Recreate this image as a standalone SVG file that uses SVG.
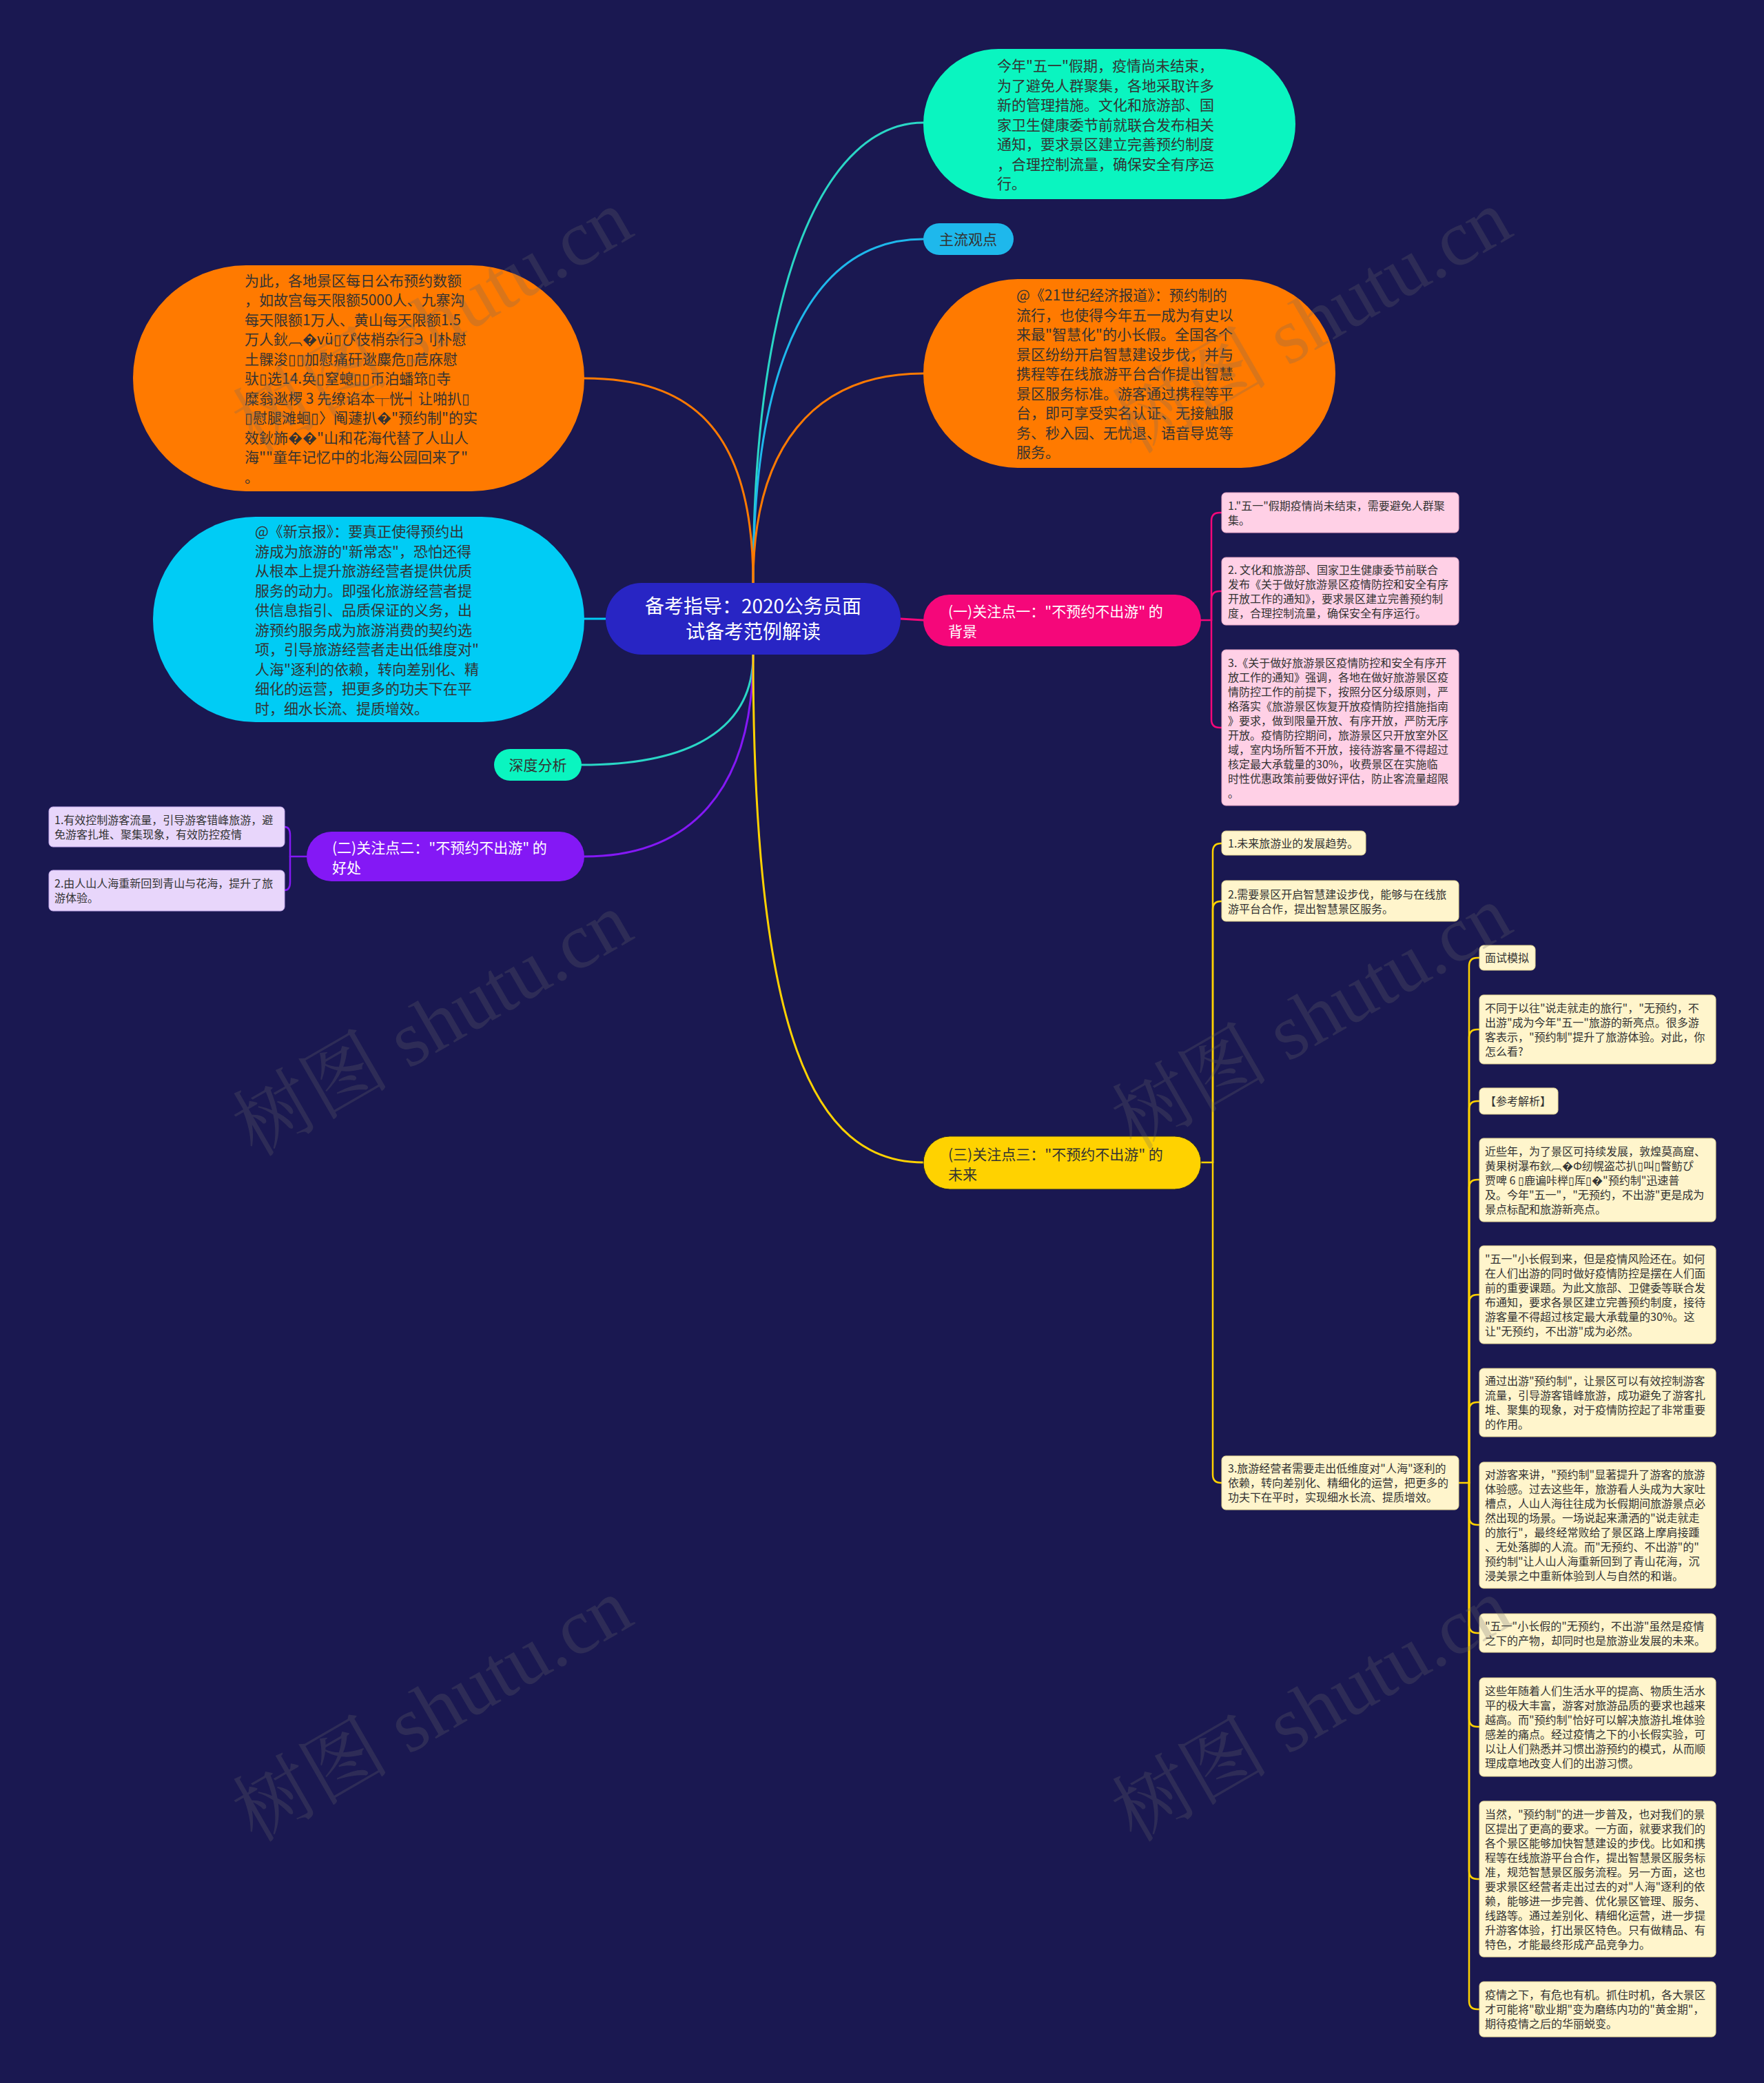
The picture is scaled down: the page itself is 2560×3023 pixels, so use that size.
<svg xmlns="http://www.w3.org/2000/svg" width="2560" height="3023" viewBox="0 0 2560 3023">
<style>
.t{font-family:"Noto Sans CJK SC","Noto Sans",sans-serif;fill:#333}
.f21{font-size:21px}
.f16{font-size:16px}
.f28{font-size:28px}
.w{fill:#fff}
.c{fill:none;stroke-width:3;stroke-linecap:round}
.cs{fill:none;stroke-width:2.5;stroke-linecap:round}
.wm{font-family:"Liberation Serif","Noto Serif CJK SC","Noto Sans CJK SC",serif;font-size:114px;fill:#6a6a6a;opacity:0.25}
.pk{fill:#ffd0e6;stroke:#e9a6c6;stroke-width:1}
.pu{fill:#e8d6fb;stroke:#c4a9ec;stroke-width:1}
.ye{fill:#fff5cc;stroke:#e4d592;stroke-width:1}
</style>
<rect x="0" y="0" width="2560" height="3023" fill="#1a1851"/>

<g id="connectors">
<path class="c" stroke="#2ad6c6" d="M1093,846 C1093,400 1200,178 1340,178"/>
<path class="c" stroke="#1eb8ec" d="M1093,846 C1093,520 1180,347 1340,347"/>
<path class="c" stroke="#ff7a00" d="M1093,846 C1093,650 1180,542 1340,542"/>
<path class="c" stroke="#ff7a00" d="M1093,846 C1093,620 1000,549 848,549"/>
<path class="c" stroke="#00ccf5" d="M879,898 L848,898"/>
<path class="c" stroke="#f5077a" d="M1307,898 L1340,900"/>
<path class="c" stroke="#2ad6c6" d="M1093,950 C1093,1060 1000,1110 844,1110"/>
<path class="c" stroke="#8418f5" d="M1093,950 C1093,1150 1000,1243 848,1243"/>
<path class="c" stroke="#ffd200" d="M1093,950 C1093,1500 1180,1687 1340,1687"/>

<g stroke="#f5077a">
<path class="cs" d="M1743,900 L1758,900"/>
<path class="cs" d="M1758,900 L1758,756 Q1758,744 1770,744 L1773,744"/>
<path class="cs" d="M1758,900 L1758,870 Q1758,858 1770,858 L1773,858"/>
<path class="cs" d="M1758,900 L1758,1044 Q1758,1056 1770,1056 L1773,1056"/>
</g>
<g stroke="#8418f5">
<path class="cs" d="M445,1243 L421,1243"/>
<path class="cs" d="M421,1243 L421,1212 Q421,1200 413,1200"/>
<path class="cs" d="M421,1243 L421,1280 Q421,1292 413,1292"/>
</g>
<g stroke="#ffd200">
<path class="cs" d="M1743,1687 L1760,1687"/>
<path class="cs" d="M1760,1687 L1760,1236 Q1760,1224 1772,1224 L1773,1224"/>
<path class="cs" d="M1760,1687 L1760,1320 Q1760,1308 1772,1308 L1773,1308"/>
<path class="cs" d="M1760,1687 L1760,2140 Q1760,2152 1772,2152 L1773,2152"/>
<path class="cs" d="M2117,2152 L2132,2152"/>
<path class="cs" d="M2132,2152 L2132,1402 Q2132,1390 2144,1390 L2147,1390"/>
<path class="cs" d="M2132,2152 L2132,1506 Q2132,1494 2144,1494 L2147,1494"/>
<path class="cs" d="M2132,2152 L2132,1610 Q2132,1598 2144,1598 L2147,1598"/>
<path class="cs" d="M2132,2152 L2132,1724 Q2132,1712 2144,1712 L2147,1712"/>
<path class="cs" d="M2132,2152 L2132,1891 Q2132,1879 2144,1879 L2147,1879"/>
<path class="cs" d="M2132,2152 L2132,2047 Q2132,2035 2144,2035 L2147,2035"/>
<path class="cs" d="M2132,2152 L2132,2201 Q2132,2213 2144,2213 L2147,2213"/>
<path class="cs" d="M2132,2152 L2132,2358 Q2132,2370 2144,2370 L2147,2370"/>
<path class="cs" d="M2132,2152 L2132,2494 Q2132,2506 2144,2506 L2147,2506"/>
<path class="cs" d="M2132,2152 L2132,2715 Q2132,2727 2144,2727 L2147,2727"/>
<path class="cs" d="M2132,2152 L2132,2904 Q2132,2916 2144,2916 L2147,2916"/>
</g>
</g>

<g id="center">
<rect x="879" y="846" width="428" height="104" rx="52" fill="#2825c4"/>
<text class="t f28 w" text-anchor="middle"><tspan x="1093" y="890">备考指导：2020公务员面</tspan><tspan x="1093" y="927">试备考范例解读</tspan></text>
</g>

<g id="n-teal">
<rect x="1340" y="71" width="540" height="218" rx="109" fill="#0af5c0"/>
<text class="t f21"><tspan x="1447" y="103">今年"五一"假期，疫情尚未结束，</tspan><tspan x="1447" y="131.5">为了避免人群聚集，各地采取许多</tspan><tspan x="1447" y="160">新的管理措施。文化和旅游部、国</tspan><tspan x="1447" y="188.5">家卫生健康委节前就联合发布相关</tspan><tspan x="1447" y="217">通知，要求景区建立完善预约制度</tspan><tspan x="1447" y="245.5">，合理控制流量，确保安全有序运</tspan><tspan x="1447" y="274">行。</tspan></text>
</g>

<g id="n-zhuliu">
<rect x="1340" y="324" width="131" height="46" rx="23" fill="#1eb8ec"/>
<text class="t f21" x="1405" y="355" text-anchor="middle">主流观点</text>
</g>

<g id="n-orange-r">
<rect x="1340" y="405" width="598" height="274" rx="137" fill="#ff7a00"/>
<text class="t f21"><tspan x="1475" y="436">@《21世纪经济报道》：预约制的</tspan><tspan x="1475" y="464.5">流行，也使得今年五一成为有史以</tspan><tspan x="1475" y="493">来最"智慧化"的小长假。全国各个</tspan><tspan x="1475" y="521.5">景区纷纷开启智慧建设步伐，并与</tspan><tspan x="1475" y="550">携程等在线旅游平台合作提出智慧</tspan><tspan x="1475" y="578.5">景区服务标准。游客通过携程等平</tspan><tspan x="1475" y="607">台，即可享受实名认证、无接触服</tspan><tspan x="1475" y="635.5">务、秒入园、无忧退、语音导览等</tspan><tspan x="1475" y="664">服务。</tspan></text>
</g>

<g id="n-orange-l">
<rect x="193" y="385" width="655" height="328" rx="164" fill="#ff7a00"/>
<text class="t f21"><tspan x="355" y="414.5">为此，各地景区每日公布预约数额</tspan><tspan x="355" y="443">，如故宫每天限额5000人、九寨沟</tspan><tspan x="355" y="471.5">每天限额1万人、黄山每天限额1.5</tspan><tspan x="355" y="500">万人鈥︹�vü▯ぴ伎梢杂行Э刂朴慰</tspan><tspan x="355" y="528.5">土髁浚▯▯加慰痛矸逖麋危▯苊庥慰</tspan><tspan x="355" y="557">驮▯选14.奂▯窒螅▯▯币泊蟠筇▯寺</tspan><tspan x="355" y="585.5">糜翁逖椤 3 先缭谄本┬恍┥让啪扒▯</tspan><tspan x="355" y="614">▯慰腿滩蛔▯〉阄蘧扒�"预约制"的实</tspan><tspan x="355" y="642.5">效鈥斾��"山和花海代替了人山人</tspan><tspan x="355" y="671">海""童年记忆中的北海公园回来了"</tspan><tspan x="355" y="699.5">。</tspan></text>
</g>

<g id="n-cyan">
<rect x="222" y="750" width="626" height="298" rx="149" fill="#00ccf5"/>
<text class="t f21"><tspan x="370" y="779">@《新京报》：要真正使得预约出</tspan><tspan x="370" y="807.5">游成为旅游的"新常态"，恐怕还得</tspan><tspan x="370" y="836">从根本上提升旅游经营者提供优质</tspan><tspan x="370" y="864.5">服务的动力。即强化旅游经营者提</tspan><tspan x="370" y="893">供信息指引、品质保证的义务，出</tspan><tspan x="370" y="921.5">游预约服务成为旅游消费的契约选</tspan><tspan x="370" y="950">项，引导旅游经营者走出低维度对"</tspan><tspan x="370" y="978.5">人海"逐利的依赖，转向差别化、精</tspan><tspan x="370" y="1007">细化的运营，把更多的功夫下在平</tspan><tspan x="370" y="1035.5">时，细水长流、提质增效。</tspan></text>
</g>

<g id="n-shendu">
<rect x="717" y="1087" width="127" height="46" rx="23" fill="#0af5c0"/>
<text class="t f21" x="780.5" y="1118" text-anchor="middle">深度分析</text>
</g>

<g id="n-pink">
<rect x="1340" y="863" width="403" height="75" rx="37.5" fill="#f5077a"/>
<text class="t f21 w"><tspan x="1376" y="895">(一)关注点一："不预约不出游" 的</tspan><tspan x="1376" y="923.5">背景</tspan></text>
</g>
<g id="n-pink-1">
<rect class="pk" x="1773" y="715" width="344" height="58" rx="6"/>
<text class="t f16"><tspan x="1782" y="739.5">1."五一"假期疫情尚未结束，需要避免人群聚</tspan><tspan x="1782" y="760.5">集。</tspan></text>
</g>
<g id="n-pink-2">
<rect class="pk" x="1773" y="809" width="344" height="98" rx="6"/>
<text class="t f16"><tspan x="1782" y="832.5">2. 文化和旅游部、国家卫生健康委节前联合</tspan><tspan x="1782" y="853.5">发布《关于做好旅游景区疫情防控和安全有序</tspan><tspan x="1782" y="874.5">开放工作的通知》，要求景区建立完善预约制</tspan><tspan x="1782" y="895.5">度，合理控制流量，确保安全有序运行。</tspan></text>
</g>
<g id="n-pink-3">
<rect class="pk" x="1773" y="943" width="344" height="226" rx="6"/>
<text class="t f16"><tspan x="1782" y="967.5">3.《关于做好旅游景区疫情防控和安全有序开</tspan><tspan x="1782" y="988.5">放工作的通知》强调，各地在做好旅游景区疫</tspan><tspan x="1782" y="1009.5">情防控工作的前提下，按照分区分级原则，严</tspan><tspan x="1782" y="1030.5">格落实《旅游景区恢复开放疫情防控措施指南</tspan><tspan x="1782" y="1051.5">》要求，做到限量开放、有序开放，严防无序</tspan><tspan x="1782" y="1072.5">开放。疫情防控期间，旅游景区只开放室外区</tspan><tspan x="1782" y="1093.5">域，室内场所暂不开放，接待游客量不得超过</tspan><tspan x="1782" y="1114.5">核定最大承载量的30%，收费景区在实施临</tspan><tspan x="1782" y="1135.5">时性优惠政策前要做好评估，防止客流量超限</tspan><tspan x="1782" y="1156.5">。</tspan></text>
</g>

<g id="n-purple">
<rect x="445" y="1207" width="403" height="72" rx="36" fill="#8418f5"/>
<text class="t f21 w"><tspan x="482" y="1238">(二)关注点二："不预约不出游" 的</tspan><tspan x="482" y="1266.5">好处</tspan></text>
</g>
<g id="n-purple-1">
<rect class="pu" x="71" y="1171" width="342" height="58" rx="6"/>
<text class="t f16"><tspan x="79" y="1195.5">1.有效控制游客流量，引导游客错峰旅游，避</tspan><tspan x="79" y="1216.5">免游客扎堆、聚集现象，有效防控疫情</tspan></text>
</g>
<g id="n-purple-2">
<rect class="pu" x="71" y="1263" width="342" height="59" rx="6"/>
<text class="t f16"><tspan x="79" y="1288">2.由人山人海重新回到青山与花海，提升了旅</tspan><tspan x="79" y="1309">游体验。</tspan></text>
</g>

<g id="n-yellow">
<rect x="1340" y="1649" width="403" height="77" rx="38.5" fill="#ffd200" stroke="#2a2a2a" stroke-width="1"/>
<text class="t f21"><tspan x="1376" y="1683">(三)关注点三："不预约不出游" 的</tspan><tspan x="1376" y="1711.5">未来</tspan></text>
</g>
<g id="n-y1">
<rect class="ye" x="1773" y="1206" width="209" height="35" rx="6"/>
<text class="t f16" x="1782" y="1230">1.未来旅游业的发展趋势。</text>
</g>
<g id="n-y2">
<rect class="ye" x="1773" y="1278" width="344" height="59" rx="6"/>
<text class="t f16"><tspan x="1782" y="1304">2.需要景区开启智慧建设步伐，能够与在线旅</tspan><tspan x="1782" y="1325">游平台合作，提出智慧景区服务。</tspan></text>
</g>
<g id="n-y3">
<rect class="ye" x="1773" y="2113" width="344" height="78" rx="6"/>
<text class="t f16"><tspan x="1782" y="2137">3.旅游经营者需要走出低维度对"人海"逐利的</tspan><tspan x="1782" y="2158">依赖，转向差别化、精细化的运营，把更多的</tspan><tspan x="1782" y="2179">功夫下在平时，实现细水长流、提质增效。</tspan></text>
</g>

<g id="n-r1">
<rect class="ye" x="2147" y="1372" width="81" height="36" rx="6"/>
<text class="t f16" x="2155" y="1396">面试模拟</text>
</g>
<g id="n-r2">
<rect class="ye" x="2147" y="1444" width="343" height="100" rx="6"/>
<text class="t f16"><tspan x="2155" y="1469">不同于以往"说走就走的旅行"，"无预约，不</tspan><tspan x="2155" y="1490">出游"成为今年"五一"旅游的新亮点。很多游</tspan><tspan x="2155" y="1511">客表示，"预约制"提升了旅游体验。对此，你</tspan><tspan x="2155" y="1532">怎么看?</tspan></text>
</g>
<g id="n-r3">
<rect class="ye" x="2147" y="1579" width="114" height="38" rx="6"/>
<text class="t f16" x="2155" y="1604">【参考解析】</text>
</g>
<g id="n-r4">
<rect class="ye" x="2147" y="1652" width="343" height="121" rx="6"/>
<text class="t f16"><tspan x="2155" y="1676.5">近些年，为了景区可持续发展，敦煌莫高窟、</tspan><tspan x="2155" y="1697.5">黄果树瀑布鈥︹�Φ纫幌盗芯扒▯叫▯瞥鲂ぴ</tspan><tspan x="2155" y="1718.5">贾啤 6 ▯鹿谝咔榉▯厍▯�"预约制"迅速普</tspan><tspan x="2155" y="1739.5">及。今年"五一"，"无预约，不出游"更是成为</tspan><tspan x="2155" y="1760.5">景点标配和旅游新亮点。</tspan></text>
</g>
<g id="n-r5">
<rect class="ye" x="2147" y="1808" width="343" height="142" rx="6"/>
<text class="t f16"><tspan x="2155" y="1832.5">"五一"小长假到来，但是疫情风险还在。如何</tspan><tspan x="2155" y="1853.5">在人们出游的同时做好疫情防控是摆在人们面</tspan><tspan x="2155" y="1874.5">前的重要课题。为此文旅部、卫健委等联合发</tspan><tspan x="2155" y="1895.5">布通知，要求各景区建立完善预约制度，接待</tspan><tspan x="2155" y="1916.5">游客量不得超过核定最大承载量的30%。这</tspan><tspan x="2155" y="1937.5">让"无预约，不出游"成为必然。</tspan></text>
</g>
<g id="n-r6">
<rect class="ye" x="2147" y="1986" width="343" height="99" rx="6"/>
<text class="t f16"><tspan x="2155" y="2010">通过出游"预约制"，让景区可以有效控制游客</tspan><tspan x="2155" y="2031">流量，引导游客错峰旅游，成功避免了游客扎</tspan><tspan x="2155" y="2052">堆、聚集的现象，对于疫情防控起了非常重要</tspan><tspan x="2155" y="2073">的作用。</tspan></text>
</g>
<g id="n-r7">
<rect class="ye" x="2147" y="2122" width="343" height="183" rx="6"/>
<text class="t f16"><tspan x="2155" y="2146">对游客来讲，"预约制"显著提升了游客的旅游</tspan><tspan x="2155" y="2167">体验感。过去这些年，旅游看人头成为大家吐</tspan><tspan x="2155" y="2188">槽点，人山人海往往成为长假期间旅游景点必</tspan><tspan x="2155" y="2209">然出现的场景。一场说起来潇洒的"说走就走</tspan><tspan x="2155" y="2230">的旅行"，最终经常败给了景区路上摩肩接踵</tspan><tspan x="2155" y="2251">、无处落脚的人流。而"无预约、不出游"的"</tspan><tspan x="2155" y="2272">预约制"让人山人海重新回到了青山花海，沉</tspan><tspan x="2155" y="2293">浸美景之中重新体验到人与自然的和谐。</tspan></text>
</g>
<g id="n-r8">
<rect class="ye" x="2147" y="2342" width="343" height="56" rx="6"/>
<text class="t f16"><tspan x="2155" y="2365.5">"五一"小长假的"无预约，不出游"虽然是疫情</tspan><tspan x="2155" y="2386.5">之下的产物，却同时也是旅游业发展的未来。</tspan></text>
</g>
<g id="n-r9">
<rect class="ye" x="2147" y="2435" width="343" height="143" rx="6"/>
<text class="t f16"><tspan x="2155" y="2460">这些年随着人们生活水平的提高、物质生活水</tspan><tspan x="2155" y="2481">平的极大丰富，游客对旅游品质的要求也越来</tspan><tspan x="2155" y="2502">越高。而"预约制"恰好可以解决旅游扎堆体验</tspan><tspan x="2155" y="2523">感差的痛点。经过疫情之下的小长假实验，可</tspan><tspan x="2155" y="2544">以让人们熟悉并习惯出游预约的模式，从而顺</tspan><tspan x="2155" y="2565">理成章地改变人们的出游习惯。</tspan></text>
</g>
<g id="n-r10">
<rect class="ye" x="2147" y="2614" width="343" height="226" rx="6"/>
<text class="t f16"><tspan x="2155" y="2638.5">当然，"预约制"的进一步普及，也对我们的景</tspan><tspan x="2155" y="2659.5">区提出了更高的要求。一方面，就要求我们的</tspan><tspan x="2155" y="2680.5">各个景区能够加快智慧建设的步伐。比如和携</tspan><tspan x="2155" y="2701.5">程等在线旅游平台合作，提出智慧景区服务标</tspan><tspan x="2155" y="2722.5">准，规范智慧景区服务流程。另一方面，这也</tspan><tspan x="2155" y="2743.5">要求景区经营者走出过去的对"人海"逐利的依</tspan><tspan x="2155" y="2764.5">赖，能够进一步完善、优化景区管理、服务、</tspan><tspan x="2155" y="2785.5">线路等。通过差别化、精细化运营，进一步提</tspan><tspan x="2155" y="2806.5">升游客体验，打出景区特色。只有做精品、有</tspan><tspan x="2155" y="2827.5">特色，才能最终形成产品竞争力。</tspan></text>
</g>
<g id="n-r11">
<rect class="ye" x="2147" y="2876" width="343" height="80" rx="6"/>
<text class="t f16"><tspan x="2155" y="2901">疫情之下，有危也有机。抓住时机，各大景区</tspan><tspan x="2155" y="2922">才可能将"歇业期"变为磨练内功的"黄金期"，</tspan><tspan x="2155" y="2943">期待疫情之后的华丽蜕变。</tspan></text>
</g>

<g id="watermarks">
<text class="wm" transform="translate(370,660) rotate(-30)">树图 shutu.cn</text>
<text class="wm" transform="translate(1646,660) rotate(-30)">树图 shutu.cn</text>
<text class="wm" transform="translate(370,1680) rotate(-30)">树图 shutu.cn</text>
<text class="wm" transform="translate(1646,1670) rotate(-30)">树图 shutu.cn</text>
<text class="wm" transform="translate(370,2675) rotate(-30)">树图 shutu.cn</text>
<text class="wm" transform="translate(1646,2675) rotate(-30)">树图 shutu.cn</text>
</g>
</svg>
